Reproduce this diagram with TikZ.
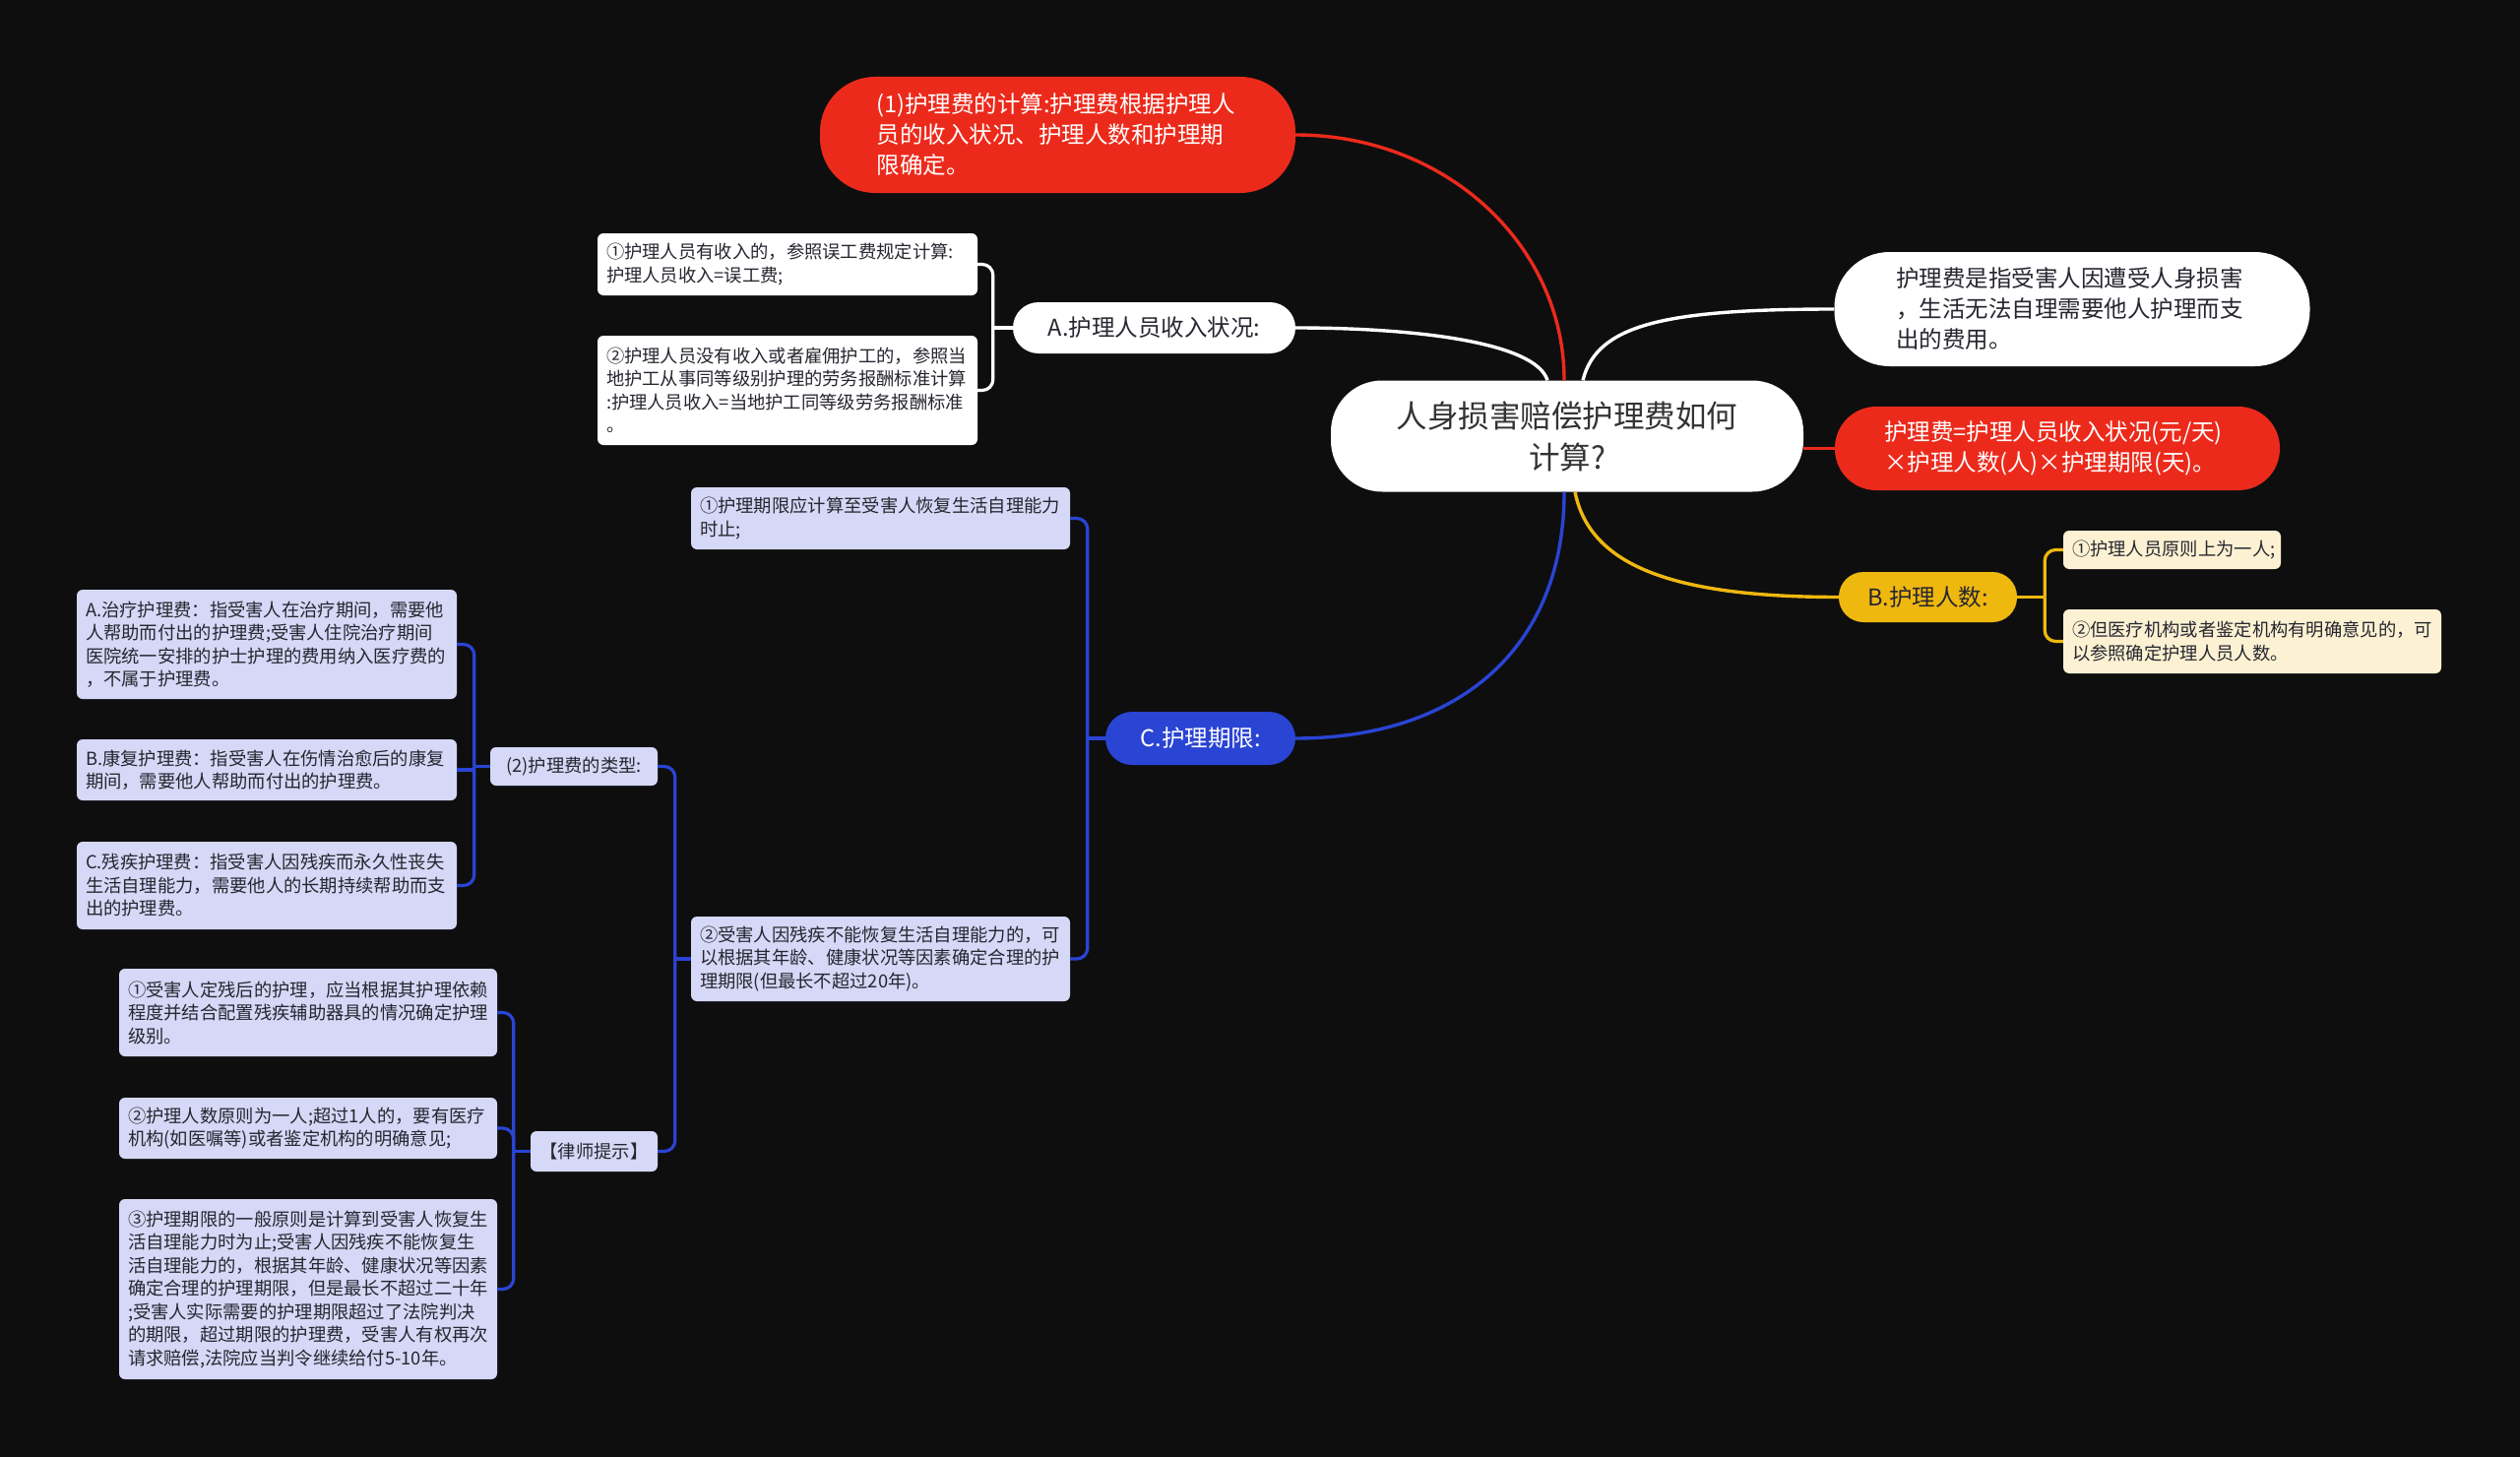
\documentclass[tikz,border=0pt]{standalone}
\usepackage{fontspec}
\setmainfont{Noto Sans CJK SC}
\definecolor{bg}{HTML}{0E0E0F}
\definecolor{redc}{HTML}{EC2A1B}
\definecolor{bluec}{HTML}{2A44D4}
\definecolor{yelc}{HTML}{EFB80F}
\definecolor{lyel}{HTML}{FCF1D2}
\definecolor{lav}{HTML}{D5D8F6}
\definecolor{dtext}{HTML}{262630}
\tikzset{
  big/.style={font=\fontsize{31.5}{42}\selectfont},
  mid/.style={font=\fontsize{23.5}{31}\selectfont},
  sml/.style={font=\fontsize{18.3}{23.5}\selectfont},
  nd/.style={inner sep=0pt, align=left},
  whitepill/.style={nd, fill=white, text=dtext},
  redpill/.style={nd, fill=redc, text=white},
  lavbox/.style={nd, sml, fill=lav, text=dtext, rounded corners=6pt},
  ylbox/.style={nd, sml, fill=lyel, text=dtext, rounded corners=6pt},
  conn/.style={line width=3.4pt},
  brk/.style={line width=3.2pt, rounded corners=11pt},
}
\begin{document}
\begin{tikzpicture}[x=1pt,y=-1pt]
\fill[bg] (0,0) rectangle (2560,1480);
\useasboundingbox (0,0) rectangle (2560,1480);

% root
\node[whitepill, big, align=center, rounded corners=52pt, minimum width=480pt, minimum height=113pt, text=black!80] (root) at (1592,443) {人身损害赔偿护理费如何\\计算?};

% first level
\node[redpill, mid, rounded corners=56pt, minimum width=483pt, minimum height=118pt, text width=368pt] (r1) at (1074.5,137) {(1)护理费的计算:护理费根据护理人\\员的收入状况、护理人数和护理期\\限确定。};
\node[whitepill, mid, align=center, rounded corners=26pt, minimum width=287pt, minimum height=52pt] (a) at (1172.5,333) {A.护理人员收入状况:};
\node[whitepill, mid, rounded corners=56pt, minimum width=483pt, minimum height=116pt, text width=358pt] (w1) at (2105,314) {护理费是指受害人因遭受人身损害\\，生活无法自理需要他人护理而支\\出的费用。};
\node[redpill, mid, rounded corners=42pt, minimum width=452pt, minimum height=85pt, text width=352pt] (f) at (2090,455.5) {护理费=护理人员收入状况(元/天)\\×护理人数(人)×护理期限(天)。};
\node[nd, mid, align=center, fill=yelc, text=dtext, rounded corners=25pt, minimum width=181pt, minimum height=51pt] (b) at (1958.5,606.5) {B.护理人数:};
\node[nd, mid, align=center, fill=bluec, text=white, rounded corners=27pt, minimum width=193pt, minimum height=54pt] (c) at (1219.5,750) {C.护理期限:};

% A children
\node[whitepill, sml, rounded corners=6pt, minimum width=386pt, minimum height=63pt, text width=368pt] (a1) at (800,268.5) {①护理人员有收入的，参照误工费规定计算:\\护理人员收入=误工费;};
\node[whitepill, sml, rounded corners=6pt, minimum width=386pt, minimum height=111pt, text width=368pt] (a2) at (800,396.5) {②护理人员没有收入或者雇佣护工的，参照当\\地护工从事同等级别护理的劳务报酬标准计算\\:护理人员收入=当地护工同等级劳务报酬标准\\。};

% B children
\node[ylbox, minimum width=221pt, minimum height=39pt, text width=203pt] (b1) at (2206.5,558.5) {①护理人员原则上为一人;};
\node[ylbox, minimum width=384pt, minimum height=65pt, text width=366pt] (b2) at (2288,651.5) {②但医疗机构或者鉴定机构有明确意见的，可\\以参照确定护理人员人数。};

% C children
\node[lavbox, minimum width=385pt, minimum height=63pt, text width=367pt] (c1) at (894.5,526.5) {①护理期限应计算至受害人恢复生活自理能力\\时止;};
\node[lavbox, minimum width=385pt, minimum height=86pt, text width=367pt] (c2) at (894.5,974) {②受害人因残疾不能恢复生活自理能力的，可\\以根据其年龄、健康状况等因素确定合理的护\\理期限(但最长不超过20年)。};

% C2 children
\node[lavbox, align=center, minimum width=170pt, minimum height=39pt] (t) at (583,778.5) {(2)护理费的类型:};
\node[lavbox, align=center, minimum width=129pt, minimum height=41pt] (l) at (603.5,1169.5) {【律师提示】};

\node[lavbox, minimum width=386pt, minimum height=111pt, text width=368pt] (ta) at (271,654.5) {A.治疗护理费：指受害人在治疗期间，需要他\\人帮助而付出的护理费;受害人住院治疗期间\\医院统一安排的护士护理的费用纳入医疗费的\\，不属于护理费。};
\node[lavbox, minimum width=386pt, minimum height=62pt, text width=368pt] (tb) at (271,782) {B.康复护理费：指受害人在伤情治愈后的康复\\期间，需要他人帮助而付出的护理费。};
\node[lavbox, minimum width=386pt, minimum height=89pt, text width=368pt] (tc) at (271,899.5) {C.残疾护理费：指受害人因残疾而永久性丧失\\生活自理能力，需要他人的长期持续帮助而支\\出的护理费。};

\node[lavbox, minimum width=384pt, minimum height=89pt, text width=366pt] (l1) at (313,1028.5) {①受害人定残后的护理，应当根据其护理依赖\\程度并结合配置残疾辅助器具的情况确定护理\\级别。};
\node[lavbox, minimum width=384pt, minimum height=62pt, text width=366pt] (l2) at (313,1146) {②护理人数原则为一人;超过1人的，要有医疗\\机构(如医嘱等)或者鉴定机构的明确意见;};
\node[lavbox, minimum width=384pt, minimum height=183pt, text width=366pt] (l3) at (313,1309.5) {③护理期限的一般原则是计算到受害人恢复生\\活自理能力时为止;受害人因残疾不能恢复生\\活自理能力的，根据其年龄、健康状况等因素\\确定合理的护理期限，但是最长不超过二十年\\;受害人实际需要的护理期限超过了法院判决\\的期限，超过期限的护理费，受害人有权再次\\请求赔偿,法院应当判令继续给付5-10年。};

% main connectors
\draw[conn, redc] (root.north) ++(-3,0) coordinate (rt1) .. controls (1589,250) and (1470,137) .. (r1.east);
\draw[conn, white] (root.north) ++(-20,0) coordinate (rt2) .. controls (1560,348) and (1440,333) .. (a.east);
\draw[conn, white] (root.north) ++(16,0) coordinate (rt3) .. controls (1622,330) and (1690,314) .. (w1.west);
\draw[conn, redc] (root.east |- f.west) -- (f.west);
\draw[conn, yelc] (root.south) ++(8,0) coordinate (rb1) .. controls (1615,575) and (1700,606.5) .. (b.west);
\draw[conn, bluec] (root.south) ++(-3,0) coordinate (rb2) .. controls (1589,660) and (1480,750) .. (c.east);

% brackets A
\draw[conn, white] (a.west) -- ++(-20,0) coordinate (aj);
\draw[brk, white] (aj) |- (a1.east);
\draw[brk, white] (aj) |- (a2.east);
% brackets B
\draw[conn, yelc] (b.east) -- ++(28,0) coordinate (bj);
\draw[brk, yelc] (bj) |- (b1.west);
\draw[brk, yelc] (bj) |- (b2.west);
% brackets C
\draw[conn, bluec] (c.west) -- ++(-18,0) coordinate (cj);
\draw[brk, bluec] (cj) |- (c1.east);
\draw[brk, bluec] (cj) |- (c2.east);
% brackets C2
\draw[conn, bluec] (c2.west) -- ++(-16,0) coordinate (c2j);
\draw[brk, bluec] (c2j) |- (t.east);
\draw[brk, bluec] (c2j) |- (l.east);
% brackets T
\draw[conn, bluec] (t.west) -- ++(-16,0) coordinate (tj);
\draw[brk, bluec] (tj) |- (ta.east);
\draw[brk, bluec] (tj |- tb.east) -- (tb.east);
\draw[brk, bluec] (tj) |- (tc.east);
% brackets L
\draw[conn, bluec] (l.west) -- ++(-17,0) coordinate (lj);
\draw[brk, bluec] (lj) |- (l1.east);
\draw[brk, bluec] (lj) |- (l2.east);
\draw[brk, bluec] (lj) |- (l3.east);
\end{tikzpicture}
\end{document}
